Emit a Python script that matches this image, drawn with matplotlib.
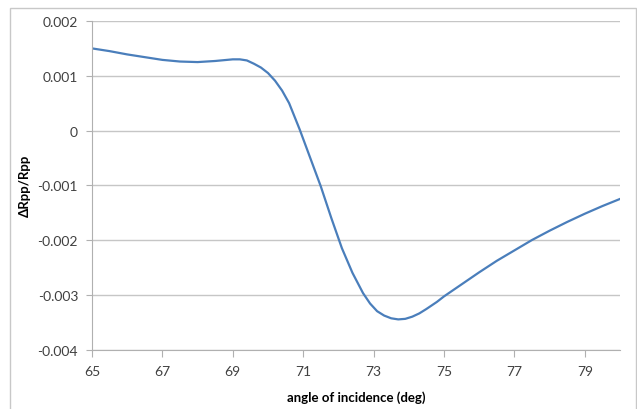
import matplotlib.pyplot as plt
from matplotlib.patches import Rectangle

# angle of incidence (deg) and dRpp/Rpp
angle = [65, 65.5, 66, 66.5, 67, 67.5, 68, 68.5, 69, 69.2, 69.4, 69.6, 69.8,
         70.0, 70.2, 70.4, 70.6, 70.9, 71.2, 71.5, 71.8, 72.1, 72.4, 72.7,
         72.9, 73.1, 73.3, 73.5, 73.7, 73.9, 74.1, 74.3, 74.5, 74.8, 75,
         75.5, 76, 76.5, 77, 77.5, 78, 78.5, 79, 79.5, 80]
drpp = [0.00150, 0.00145, 0.00139, 0.00134, 0.00129, 0.00126, 0.00125,
        0.00127, 0.00130, 0.00130, 0.00128, 0.00122, 0.00115, 0.00105,
        0.00091, 0.00073, 0.00050, 0.00002, -0.00050, -0.00102, -0.00160,
        -0.00215, -0.00260, -0.00297, -0.00316, -0.00330, -0.00338,
        -0.00343, -0.00345, -0.00344, -0.00340, -0.00334, -0.00326,
        -0.00313, -0.00303, -0.00281, -0.00259, -0.00238, -0.00219,
        -0.00200, -0.00183, -0.00167, -0.00152, -0.00138, -0.00125]

xticks = [65, 67, 69, 71, 73, 75, 77, 79]
yticks = [-0.004, -0.003, -0.002, -0.001, 0, 0.001, 0.002]
ytick_labels = ['-0.004', '-0.003', '-0.002', '-0.001', '0', '0.001', '0.002']

plt.rcParams['font.family'] = ['Lato', 'DejaVu Sans']

fig = plt.figure(figsize=(6.37, 4.10), dpi=100)
ax = fig.add_axes([0.1444, 0.1451, 0.8289, 0.8012])

# outer chart border like the Excel chart area
fig.patches.append(Rectangle((10 / 637, -0.05), 626 / 637, 1.05 - 9 / 410,
                             transform=fig.transFigure, fill=False,
                             edgecolor='#c8c8c8', lw=1.0))

ax.plot(angle, drpp, color='#4a7ebb', lw=1.6)

ax.set_xlim(65, 80)
ax.set_ylim(-0.004, 0.002)
ax.set_xticks(xticks)
ax.set_yticks(yticks)
ax.set_yticklabels(ytick_labels)

ax.grid(axis='y', color='#c6c6c6', lw=1.0)
ax.set_axisbelow(True)
for s in ['top', 'right']:
    ax.spines[s].set_visible(False)
for s in ['left', 'bottom']:
    ax.spines[s].set_color('#b0b0b0')
ax.tick_params(axis='x', direction='out', length=5, color='#b0b0b0',
               labelsize=10, labelcolor='#404040', pad=6)
ax.tick_params(axis='y', direction='out', length=4, color='#b0b0b0',
               labelsize=10, labelcolor='#404040', pad=6)

ax.set_xlabel('angle of incidence (deg)', fontsize=9.5, fontweight='bold', labelpad=10)
ax.set_ylabel('ΔRpp/Rpp', fontsize=9.5, fontweight='bold', labelpad=5)

plt.savefig('out.png', dpi=100)
